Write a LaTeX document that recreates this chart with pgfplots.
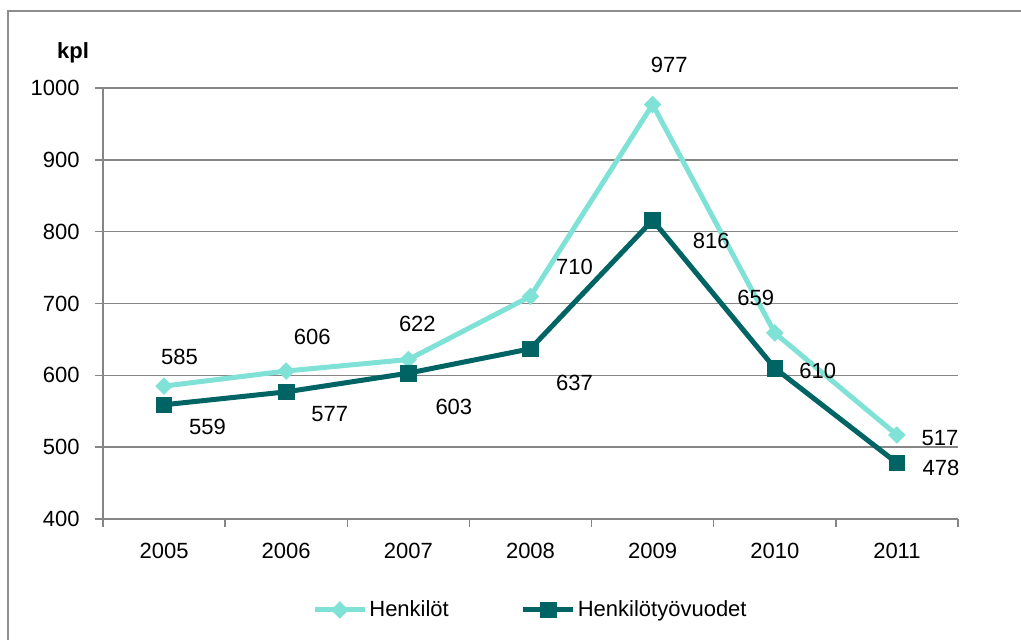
\documentclass[border=0pt]{standalone}
\usepackage{fontspec}
\setmainfont{Liberation Sans}
\usepackage{pgfplots}
\usepackage{pgfplotstable}
\pgfplotsset{compat=1.18}
\definecolor{hlight}{HTML}{80E2D6}
\definecolor{hdark}{HTML}{006464}
\definecolor{gridgray}{HTML}{868686}
\definecolor{framegray}{HTML}{8E8E8E}

\pgfplotstableread{
x y dx dy
0 585 7.75 14.55
1 606 13 17
2 622 4.5 18
3 710 22 14.65
4 977 8.25 19.75
5 659 -9.5 17.75
6 517 21.5 -1.75
}\tabH
\pgfplotstableread{
x y dx dy
0 559 21.75 -11.1
1 577 21.75 -11.05
2 603 22.75 -16.9
3 637 22 -17.1
4 816 29.25 -10.4
5 610 21.5 -1.4
6 478 22 -2.25
}\tabW

\begin{document}
\begin{tikzpicture}[font=\fontsize{11}{13}\selectfont]
\useasboundingbox (-51.5pt,-60.5pt) rectangle (459pt,259.5pt);
\draw[framegray, line width=0.75pt] (-47.5pt,-62pt) -- (-47.5pt,254pt) -- (461pt,254pt);
\begin{axis}[
 at={(0,0)}, anchor=south west,
 scale only axis, width=427.5pt, height=215.5pt,
 xmin=-0.5, xmax=6.5, ymin=400, ymax=1000,
 axis lines*=left,
 axis line style={gridgray, line width=0.75pt},
 xtick={-0.5,0.5,1.5,2.5,3.5,4.5,5.5,6.5},
 xticklabels={},
 extra x ticks={0,1,2,3,4,5,6},
 extra x tick labels={2005,2006,2007,2008,2009,2010,2011},
 extra x tick style={major tick length=0pt},
 ytick={400,500,...,1000},
 tick align=outside, major tick length=4pt,
 tick style={gridgray, line width=0.75pt},
 ymajorgrids, grid style={gridgray, line width=0.75pt},
 /pgf/number format/assume math mode=true,
 /pgf/number format/1000 sep={},
 yticklabel style={anchor=east, inner sep=0pt, xshift=-7.5pt, text=black},
 xticklabel style={anchor=center, inner sep=0pt, yshift=-16pt, text=black},
 clip=false,
 legend columns=2,
 legend style={at={(0.5,-0.2111)}, anchor=center, draw=none, fill=none,
   /tikz/every even column/.append style={column sep=35pt},
   nodes={inner sep=1pt, text=black}},
 legend image code/.code={\draw[mark repeat=2,mark phase=2,#1] plot coordinates {(0pt,0pt) (12.5pt,0pt) (25pt,0pt)};},
]
\addplot[hlight, line width=2.5pt, mark=square*, mark size=2.9pt,
  mark options={rotate=45, solid, line width=0.4pt, fill=hlight, draw=hlight},
  nodes near coords,
  visualization depends on={\thisrow{dx}\as\dx},
  visualization depends on={\thisrow{dy}\as\dy},
  every node near coord/.append style={anchor=center, text=black, xshift=\dx pt, yshift=\dy pt}]
  table[x=x,y=y]{\tabH};
\addlegendentry{Henkilöt}
\addplot[hdark, line width=2.5pt, mark=square*, mark size=3.9pt,
  mark options={solid, line width=0.4pt, fill=hdark, draw=hdark},
  nodes near coords,
  visualization depends on={\thisrow{dx}\as\dx},
  visualization depends on={\thisrow{dy}\as\dy},
  every node near coord/.append style={anchor=center, text=black, xshift=\dx pt, yshift=\dy pt}]
  table[x=x,y=y]{\tabW};
\addlegendentry{Henkilötyövuodet}
\end{axis}
\node[font=\fontsize{11}{13}\selectfont\bfseries] at (-15pt,233pt) {kpl};
\end{tikzpicture}
\end{document}
